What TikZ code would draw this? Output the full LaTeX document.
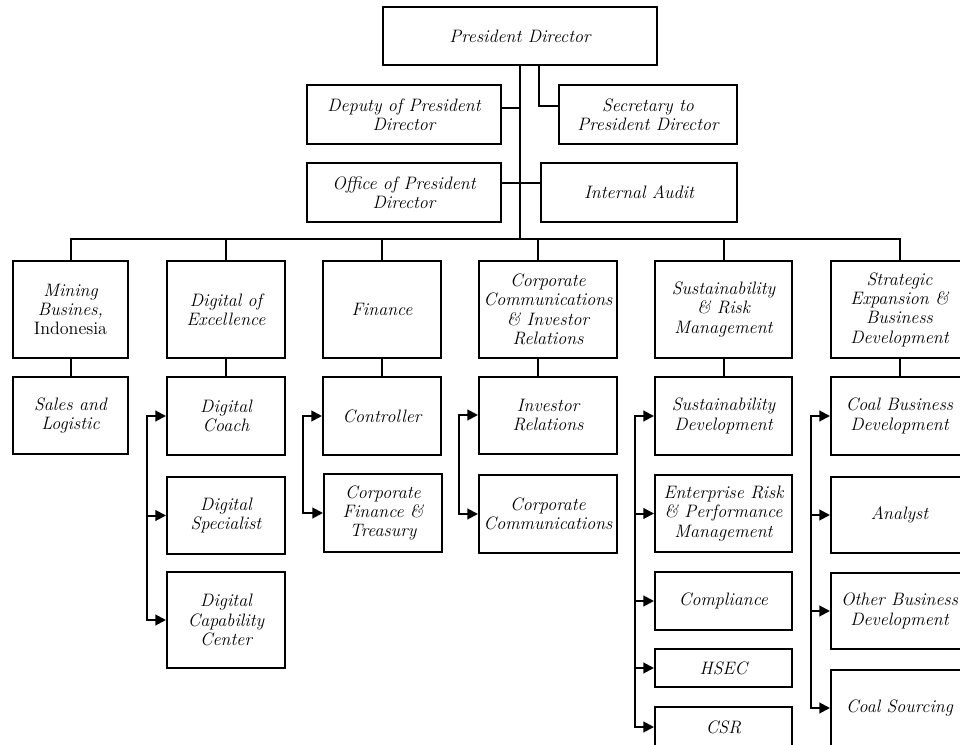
\documentclass[tikz,border=0pt]{standalone}
\usetikzlibrary{arrows.meta}

\begin{document}
\begin{tikzpicture}[x=0.75pt,y=-0.75pt,line width=1.5pt,line cap=rect,
    box/.style={draw,align=center,inner sep=2pt,font=\fontsize{13.5}{14.5}\selectfont\itshape},
    sz/.style n args={2}{minimum width=#1*0.75pt,minimum height=#2*0.75pt},
    arr/.style={-{Triangle[length=8pt,width=8pt]}}]
    \useasboundingbox (0,0) rectangle (960,745);
    \clip (0,0) rectangle (960,745);

    \node[box,sz={274}{58}] (pd) at (520,36) {President Director};
    \node[box,sz={194}{59}] (dep) at (404,114.5) {Deputy of President\\Director};
    \node[box,sz={178}{59}] (sec) at (648,114.5) {Secretary to\\President Director};
    \node[box,sz={194}{59}] (off) at (404,192.5) {Office of President\\Director};
    \node[box,sz={196}{59}] (aud) at (639,192.5) {Internal Audit};

    \node[box,sz={115}{97}] (min) at (70.5,309.5) {Mining\\Busines,\\\upshape Indonesia};
    \node[box,sz={118}{97}] (dig) at (226,309.5) {Digital of\\Excellence};
    \node[box,sz={118}{97}] (fin) at (382,309.5) {Finance};
    \node[box,sz={138}{97}] (cci) at (548,309.5) {Corporate\\Communications\\\& Investor\\Relations};
    \node[box,sz={137}{97}] (sus) at (723.5,309.5) {Sustainability\\\& Risk\\Management};
    \node[box,sz={137}{97}] (str) at (899.5,309.5) {Strategic\\Expansion \&\\Business\\Development};

    \node[box,sz={115}{77}] (sal) at (70.5,415.5) {Sales and\\Logistic};
    \node[box,sz={118}{78}] (coach) at (226,416) {Digital\\Coach};
    \node[box,sz={118}{77}] (spec) at (226,515.5) {Digital\\Specialist};
    \node[box,sz={118}{96}] (cap) at (226,620) {Digital\\Capability\\Center};
    \node[box,sz={118}{78}] (ctrl) at (382,416) {Controller};
    \node[box,sz={118}{78}] (cft) at (383,513) {Corporate\\Finance \&\\Treasury};
    \node[box,sz={138}{77}] (ir) at (548,415) {Investor\\Relations};
    \node[box,sz={138}{78}] (cc) at (548,514) {Corporate\\Communications};
    \node[box,sz={137}{78}] (sd) at (723.5,416) {Sustainability\\Development};
    \node[box,sz={137}{77}] (erp) at (723.5,513.5) {Enterprise Risk\\\& Performance\\Management};
    \node[box,sz={137}{58}] (comp) at (723.5,601) {Compliance};
    \node[box,sz={137}{38}] (hsec) at (723.5,668) {HSEC};
    \node[box,sz={137}{40}] (csr) at (723.5,727) {CSR};
    \node[box,sz={137}{78}] (cbd) at (899.5,416) {Coal Business\\Development};
    \node[box,sz={137}{76}] (ana) at (899.5,515) {Analyst};
    \node[box,sz={137}{76}] (obd) at (899.5,611) {Other Business\\Development};
    \node[box,sz={137}{76}] (cs) at (899.5,708) {Coal Sourcing};

    \draw (min.north) -- ++(0,-21) coordinate (bus) -| (str.north);
    \draw (pd) -- (pd |- bus);
    \draw ([yshift=5pt]dep.east) -- ([yshift=5pt]dep.east -| pd.south);
    \draw ([yshift=7pt]off.east) -- ([yshift=7pt]aud.west);
    \draw ([xshift=14.25pt]pd.south) |- ([yshift=6pt]sec.west);
    \foreach \n in {dig,fin,sus}
        \draw (\n) -- (\n |- bus);
    \draw ([xshift=-7.5pt]cci.north) -- ([xshift=-7.5pt]cci.north |- bus);

    \draw (min) -- (sal);
    \draw (dig) -- (coach);
    \draw (fin) -- (ctrl);
    \draw ([xshift=-7.5pt]cci.south) -- ([xshift=-7.5pt]ir.north);
    \draw (sus) -- (sd);
    \draw (str) -- (cbd);

    \foreach \a/\b/\c in {dg/coach/cap,fn/ctrl/cft,cm/ir/cc,su/sd/csr,st/cbd/cs} {
        \coordinate (\a) at ([xshift=-14pt]\b.west);
        \draw[arr] (\a |- \c.west) -- (\a) -- (\b.west);
    }
    \foreach \n/\a in {spec/dg,cap/dg,cft/fn,cc/cm,erp/su,comp/su,hsec/su,csr/su,ana/st,obd/st,cs/st}
        \draw[arr] (\a |- \n.west) -- (\n.west);
\end{tikzpicture}
\end{document}
